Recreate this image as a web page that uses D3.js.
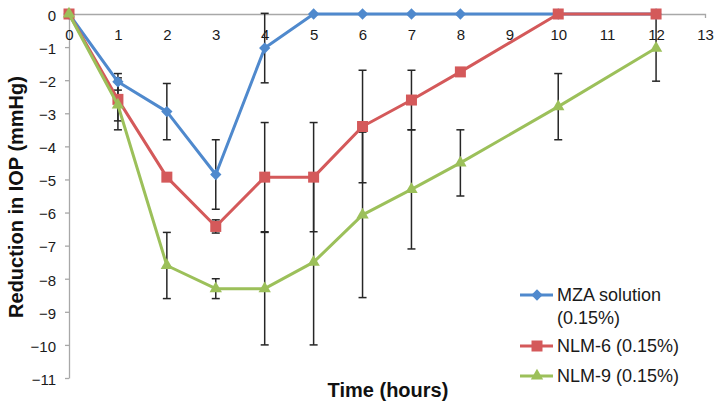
<!DOCTYPE html>
<html>
<head>
<meta charset="utf-8">
<script src="https://cdn.jsdelivr.net/npm/d3@7"></script>
<style>
    body { margin: 0; background: #fff; }
    svg { display: block; font-family: "Liberation Sans", Arial, sans-serif; }
</style>
</head>
<body>
<div id="chart"></div>
<script>
const hours = [0, 1, 2, 3, 4, 5, 6, 7, 8, 10, 12];

const mzaValues = [0, -2.05, -2.95, -4.85, -1.03, 0, 0, 0, 0, 0, 0];
const mzaErrors = [0, 0.25, 0.85, 1.05, 1.05, 0, 0, 0, 0, 0, 0];

const nlm6Values = [0, -2.58, -4.93, -6.42, -4.93, -4.93, -3.4, -2.6, -1.75, 0, 0];
const nlm6Errors = [0, 0.65, 0, 0.2, 1.65, 1.65, 1.7, 0.9, 0, 0, 0];

const nlm9Values = [0, -2.75, -7.6, -8.3, -8.3, -7.5, -6.07, -5.3, -4.5, -2.8, -1.03];
const nlm9Errors = [0, 0.75, 1.0, 0.3, 1.7, 2.5, 2.5, 1.8, 1.0, 1.0, 1.0];

const seriesNames = [["MZA solution", "(0.15%)"], ["NLM-6 (0.15%)"], ["NLM-9 (0.15%)"]];
const xTicks = [0, 1, 2, 3, 4, 5, 6, 7, 8, 9, 10, 11, 12, 13];
const yTicks = [0, -1, -2, -3, -4, -5, -6, -7, -8, -9, -10, -11];

const series = [
    { name: seriesNames[0], values: mzaValues, errors: mzaErrors, color: "#4f89cd", shape: "diamond" },
    { name: seriesNames[1], values: nlm6Values, errors: nlm6Errors, color: "#d4595a", shape: "square" },
    { name: seriesNames[2], values: nlm9Values, errors: nlm9Errors, color: "#9cc05a", shape: "triangle" },
];

function markerPath(shape) {
    if (shape === "square") return d3.symbol(d3.symbolSquare, 121)();
    if (shape === "triangle") return d3.symbol(d3.symbolTriangle, 66)();
    return d3.symbol(d3.symbolSquare, 64)();
}

function markerTransform(shape, x, y) {
    return shape === "diamond" ? `translate(${x},${y}) rotate(45)` : `translate(${x},${y})`;
}

function createChart() {
    const width = 721;
    const height = 409;

    const svg = d3
        .select("#chart")
        .append("svg")
        .attr("width", width)
        .attr("height", height);

    const xScale = d3.scaleLinear().domain([0, 13]).range([69, 705]);
    const yScale = d3.scaleLinear().domain([0, -11]).range([14, 378]);

    // Y axis
    const yAxis = svg.append("g")
        .attr("transform", `translate(${xScale(0)}, 0)`)
        .call(d3.axisLeft(yScale).tickValues(yTicks).tickSize(4).tickSizeOuter(0).tickPadding(9));
    yAxis.selectAll("path, line").attr("stroke", "#a8a8a8").attr("stroke-width", 1.3);
    yAxis.selectAll("text")
        .attr("font-size", 15)
        .attr("fill", "#1a1a1a")
        .attr("dy", "0.42em")
        .style("font-family", "'Liberation Sans', Arial, sans-serif");

    // X axis sits on the zero line
    const xAxis = svg.append("g")
        .attr("transform", `translate(0, ${yScale(0)})`)
        .call(d3.axisBottom(xScale).tickValues(xTicks).tickSize(0).tickSizeOuter(4).tickPadding(15));
    xAxis.selectAll("path, line").attr("stroke", "#a8a8a8").attr("stroke-width", 1.3);
    xAxis.selectAll("text")
        .attr("font-size", 15)
        .attr("fill", "#1a1a1a")
        .style("font-family", "'Liberation Sans', Arial, sans-serif");

    // Error bars
    const bars = svg.append("g").attr("class", "error-bars")
        .attr("stroke", "#262626")
        .attr("stroke-width", 1.5);

    series.forEach((s) => {
        const pts = hours
            .map((h, i) => ({ h, v: s.values[i], e: s.errors[i] }))
            .filter((d) => d.e > 0);

        const g = bars.append("g");
        g.selectAll("line.stem")
            .data(pts)
            .join("line")
            .attr("class", "stem")
            .attr("x1", (d) => xScale(d.h))
            .attr("x2", (d) => xScale(d.h))
            .attr("y1", (d) => yScale(d.v + d.e))
            .attr("y2", (d) => yScale(d.v - d.e));

        g.selectAll("line.cap")
            .data(pts.flatMap((d) => [d.v + d.e, d.v - d.e].map((y) => ({ h: d.h, y }))))
            .join("line")
            .attr("class", "cap")
            .attr("x1", (d) => xScale(d.h) - 4)
            .attr("x2", (d) => xScale(d.h) + 4)
            .attr("y1", (d) => yScale(d.y))
            .attr("y2", (d) => yScale(d.y));
    });

    // Lines and markers
    const line = d3.line()
        .x((d) => xScale(d.h))
        .y((d) => yScale(d.v));

    series.forEach((s) => {
        const pts = hours.map((h, i) => ({ h, v: s.values[i] }));

        svg.append("path")
            .datum(pts)
            .attr("fill", "none")
            .attr("stroke", s.color)
            .attr("stroke-width", 3)
            .attr("stroke-linejoin", "round")
            .attr("d", line);

        svg.append("g")
            .selectAll("path")
            .data(pts)
            .join("path")
            .attr("d", markerPath(s.shape))
            .attr("transform", (d) => markerTransform(s.shape, xScale(d.h), yScale(d.v)))
            .attr("fill", s.color);
    });

    // Axis titles
    svg.append("text")
        .attr("x", 388)
        .attr("y", 397)
        .attr("text-anchor", "middle")
        .attr("font-size", 20)
        .attr("font-weight", "bold")
        .attr("fill", "#111")
        .text("Time (hours)");

    svg.append("text")
        .attr("transform", "translate(23, 197) rotate(-90)")
        .attr("text-anchor", "middle")
        .attr("font-size", 20)
        .attr("font-weight", "bold")
        .attr("fill", "#111")
        .text("Reduction in IOP (mmHg)");

    // Legend
    const legendRows = [295, 346, 376];
    const legend = svg.append("g").attr("class", "legend");

    series.forEach((s, i) => {
        const row = legend.append("g").attr("transform", `translate(0, ${legendRows[i]})`);
        row.append("line")
            .attr("x1", 520)
            .attr("x2", 553)
            .attr("stroke", s.color)
            .attr("stroke-width", 3);
        row.append("path")
            .attr("d", markerPath(s.shape))
            .attr("transform", markerTransform(s.shape, 537, 0))
            .attr("fill", s.color);

        const label = row.append("text")
            .attr("x", 557)
            .attr("y", 0)
            .attr("dy", "0.35em")
            .attr("font-size", 18)
            .attr("fill", "#1a1a1a");
        s.name.forEach((t, j) => {
            label.append("tspan")
                .attr("x", 557)
                .attr("dy", j === 0 ? "0.35em" : "1.25em")
                .text(t);
        });
    });
}

document.addEventListener("DOMContentLoaded", () => {
    createChart();
});
</script>
</body>
</html>
